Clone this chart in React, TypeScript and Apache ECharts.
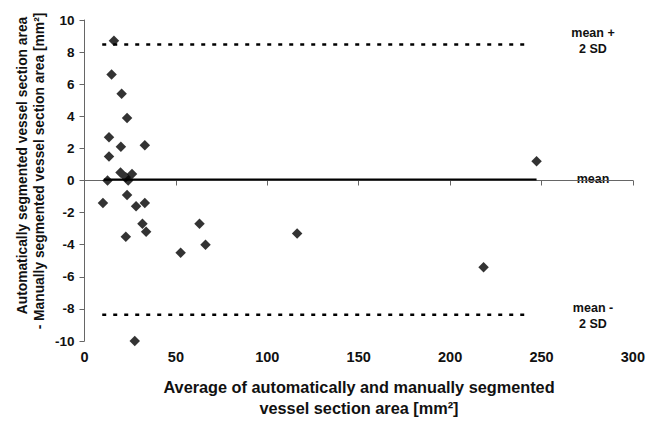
import React, { useEffect, useRef } from "react";
import * as echarts from "echarts";

const avgArea = [16.1, 14.8, 20.3, 23.3, 13.4, 19.9, 33.0, 13.4, 19.7, 22.6, 26.0, 23.9, 12.6, 10.1, 23.3, 28.2, 33.0, 31.7, 33.7, 22.6, 52.6, 62.9, 66.2, 116.3, 218.3, 247.3, 27.5];
const diffArea = [8.7, 6.6, 5.4, 3.9, 2.7, 2.1, 2.2, 1.5, 0.5, 0.2, 0.4, 0.0, 0.0, -1.4, -0.9, -1.6, -1.4, -2.7, -3.2, -3.5, -4.5, -2.7, -4.0, -3.3, -5.4, 1.2, -10.0];

const meanValue = 0.06;
const upperLimit = 8.47;
const lowerLimit = -8.37;
const meanLineRange = [10.6, 247.3];
const sdLineRange = [9.7, 244];

const xTicks = [0, 300, 50];
const yTicks = [-10, 10, 2];

const FONT = "Liberation Sans, Arial, sans-serif";

export default function App() {
  const ref = useRef<HTMLDivElement>(null);
  useEffect(() => {
    if (!ref.current) return;
    const chart = echarts.init(ref.current, undefined, { renderer: "svg" });
    const points = avgArea.map((x, i) => [x, diffArea[i]]);
    const labelStyle = { fontFamily: FONT, fontWeight: "bold" as const, fontSize: 12.5, fill: "#111", textAlign: "center" as const, textVerticalAlign: "middle" as const };
    chart.setOption({
      animation: false,
      backgroundColor: "#fff",
      grid: { left: 84.5, right: 11.3, top: 20, bottom: 81 },
      xAxis: {
        type: "value",
        min: xTicks[0],
        max: xTicks[1],
        interval: xTicks[2],
        splitLine: { show: false },
        axisLine: { lineStyle: { color: "#666", width: 1 } },
        axisTick: { length: 5, lineStyle: { color: "#666" } },
        axisLabel: { color: "#111", fontFamily: FONT, fontWeight: "bold", fontSize: 14.5, margin: 8 },
      },
      yAxis: {
        type: "value",
        min: yTicks[0],
        max: yTicks[1],
        interval: yTicks[2],
        splitLine: { show: false },
        axisLine: { lineStyle: { color: "#666", width: 1 } },
        axisTick: { length: 5, lineStyle: { color: "#666" } },
        axisLabel: { color: "#111", fontFamily: FONT, fontWeight: "bold", fontSize: 13.5, margin: 10 },
      },
      series: [
        {
          type: "line",
          data: [[meanLineRange[0], meanValue], [meanLineRange[1], meanValue]],
          symbol: "none",
          lineStyle: { color: "#000", width: 2 },
          z: 1,
        },
        {
          type: "line",
          data: [[sdLineRange[0], upperLimit], [sdLineRange[1], upperLimit]],
          symbol: "none",
          lineStyle: { color: "#000", width: 2.5, type: [4, 7] },
          z: 1,
        },
        {
          type: "line",
          data: [[sdLineRange[0], lowerLimit], [sdLineRange[1], lowerLimit]],
          symbol: "none",
          lineStyle: { color: "#000", width: 2.5, type: [4, 7] },
          z: 1,
        },
        {
          type: "scatter",
          data: points,
          symbol: "diamond",
          symbolSize: 10.5,
          itemStyle: { color: "#000" },
          z: 3,
        },
      ],
      graphic: [
        { type: "text", x: 593, y: 33, style: { ...labelStyle, text: "mean +" } },
        { type: "text", x: 593, y: 49, style: { ...labelStyle, text: "2 SD" } },
        { type: "text", x: 593, y: 179, style: { ...labelStyle, text: "mean" } },
        { type: "text", x: 593, y: 308, style: { ...labelStyle, text: "mean -" } },
        { type: "text", x: 593, y: 324, style: { ...labelStyle, text: "2 SD" } },
        { type: "text", x: 22, y: 165.5, rotation: Math.PI / 2, style: { ...labelStyle, fontSize: 13.8, text: "Automatically segmented vessel section area" } },
        { type: "text", x: 39.5, y: 171, rotation: Math.PI / 2, style: { ...labelStyle, fontSize: 13.8, text: "- Manually segmented vessel section area [mm²]" } },
        { type: "text", x: 359, y: 386.5, style: { ...labelStyle, fontSize: 16.3, text: "Average of automatically and manually segmented" } },
        { type: "text", x: 359, y: 408, style: { ...labelStyle, fontSize: 16.3, text: "vessel section area [mm²]" } },
      ],
    });
    return () => chart.dispose();
  }, []);
  return <div ref={ref} style={{ position: "fixed", left: 0, top: 0, width: 648, height: 422 }} />;
}
